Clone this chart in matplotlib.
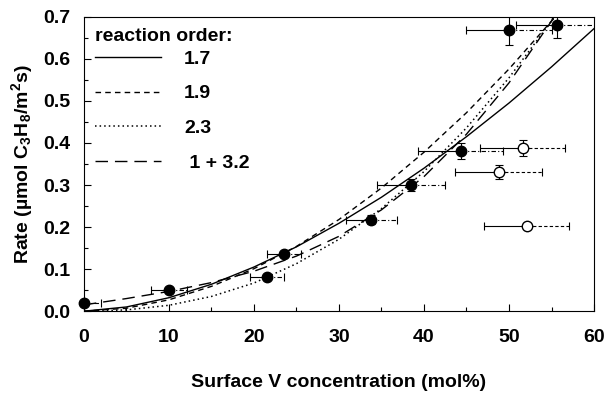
import matplotlib
matplotlib.use("Agg")
import matplotlib.pyplot as plt
from matplotlib.ticker import MultipleLocator

plt.rcParams['font.family'] = ['Liberation Sans', 'DejaVu Sans']
plt.rcParams['font.weight'] = 'bold'
plt.rcParams['mathtext.fontset'] = 'custom'
plt.rcParams['mathtext.rm'] = 'Liberation Sans:bold'
plt.rcParams['mathtext.it'] = 'Liberation Sans:bold'
plt.rcParams['mathtext.bf'] = 'Liberation Sans:bold'

# measured points (filled)
fx = [0, 10, 21.5, 23.5, 33.8, 38.5, 44.3, 50.0, 55.6]
fy = [0.02, 0.05, 0.082, 0.135, 0.218, 0.300, 0.380, 0.668, 0.680]
fxerr = [2.0, 2.1, 2.0, 2.0, 3.0, 4.0, 5.0, 5.0, 4.8]
fyerr = [0.0, 0.0, 0.0, 0.006, 0.01, 0.015, 0.019, 0.034, 0.03]

# open points
ox = [51.6, 48.8, 52.1]
oy = [0.388, 0.331, 0.203]
oxerr = [5.0, 5.1, 5.0]
oyerr = [0.02, 0.017, 0.007]

# model curves
cx = [0, 5, 10, 15, 20, 25, 30, 35, 40, 45, 50, 55, 60]
c17 = [0, 0.010, 0.032, 0.064, 0.105, 0.153, 0.209, 0.271, 0.340, 0.415, 0.495, 0.581, 0.672]
cx19 = [0, 5, 10, 15, 20, 25, 30, 35, 40, 45, 50, 55, 55.5]
c19 = [0, 0.007, 0.027, 0.059, 0.101, 0.154, 0.218, 0.293, 0.378, 0.472, 0.576, 0.690, 0.700]
cx23 = [0, 5, 10, 15, 20, 25, 30, 35, 40, 45, 50, 55, 55.3]
c23 = [0, 0.003, 0.014, 0.035, 0.067, 0.113, 0.171, 0.244, 0.332, 0.436, 0.555, 0.690, 0.700]
cx32 = [0, 5, 10, 15, 20, 25, 30, 35, 40, 45, 50, 55, 55.2]
c32 = [0.015, 0.030, 0.047, 0.068, 0.095, 0.131, 0.178, 0.241, 0.320, 0.421, 0.543, 0.690, 0.700]

labels = ['1.7', '1.9', '2.3', ' 1 + 3.2']

fig = plt.figure(figsize=(6.08, 4.01), dpi=100)
ax = fig.add_axes([0.138, 0.224, 0.839, 0.734])

l1, = ax.plot(cx, c17, color='black', lw=1.0, ls='-')
l2, = ax.plot(cx19, c19, color='black', lw=1.0, ls=(0, (4, 3)))
l3, = ax.plot(cx23, c23, color='black', lw=1.1, ls=(0, (1, 2)))
l4, = ax.plot(cx32, c32, color='black', lw=1.0, ls=(0, (9, 5)))

ekw = dict(fmt='none', ecolor='black', elinewidth=0.8, capsize=3, capthick=0.8)
for x, y, xe, ye in zip(fx, fy, fxerr, fyerr):
    ax.errorbar([x], [y], xerr=[[xe], [0]], **ekw)
    eb = ax.errorbar([x], [y], xerr=[[0], [xe]], **ekw)
    eb[2][0].set_linestyle((0, (4, 2, 1, 2)))
    if ye > 0:
        ax.errorbar([x], [y], yerr=[ye], **ekw)
for x, y, xe, ye in zip(ox, oy, oxerr, oyerr):
    ax.errorbar([x], [y], xerr=[[xe], [0]], **ekw)
    eb = ax.errorbar([x], [y], xerr=[[0], [xe]], **ekw)
    eb[2][0].set_linestyle((0, (3, 2)))
    ax.errorbar([x], [y], yerr=[ye], **ekw)

ax.plot(fx, fy, 'o', color='black', ms=7.5, zorder=5, clip_on=False)
ax.plot(ox, oy, 'o', mfc='white', mec='black', mew=1.0, ms=7.5, zorder=5)

ax.set_xlim(0, 60)
ax.set_ylim(0, 0.7)
ax.xaxis.set_major_locator(MultipleLocator(10))
ax.xaxis.set_minor_locator(MultipleLocator(5))
ax.yaxis.set_major_locator(MultipleLocator(0.1))
ax.yaxis.set_minor_locator(MultipleLocator(0.05))
ax.yaxis.set_major_formatter(plt.FormatStrFormatter('%.1f'))
ax.tick_params(which='both', direction='in', labelsize=14, width=0.8)
ax.tick_params(which='major', length=5, pad=10)
ax.tick_params(axis='x', which='major', pad=13)
ax.tick_params(which='minor', length=3)
for s in ax.spines.values():
    s.set_linewidth(0.8)

ax.set_xlabel('Surface V concentration (mol%)', fontsize=14, fontweight='bold', labelpad=20)
ax.set_ylabel(r'Rate (µmol C$_3$H$_8$/m$^2$s)', fontsize=14, fontweight='bold', labelpad=6)

leg = ax.legend([l1, l2, l3, l4], labels, title='reaction order:', loc='upper left',
                frameon=False, fontsize=14, title_fontsize=14, handlelength=3.4,
                handletextpad=1.2, labelspacing=0.88, borderaxespad=0.15,
                bbox_to_anchor=(0.0, 1.0))
leg._legend_box.align = 'left'
leg._legend_box.sep = 4
leg.get_title().set_fontweight('bold')

fig.savefig('out.png', dpi=100)
